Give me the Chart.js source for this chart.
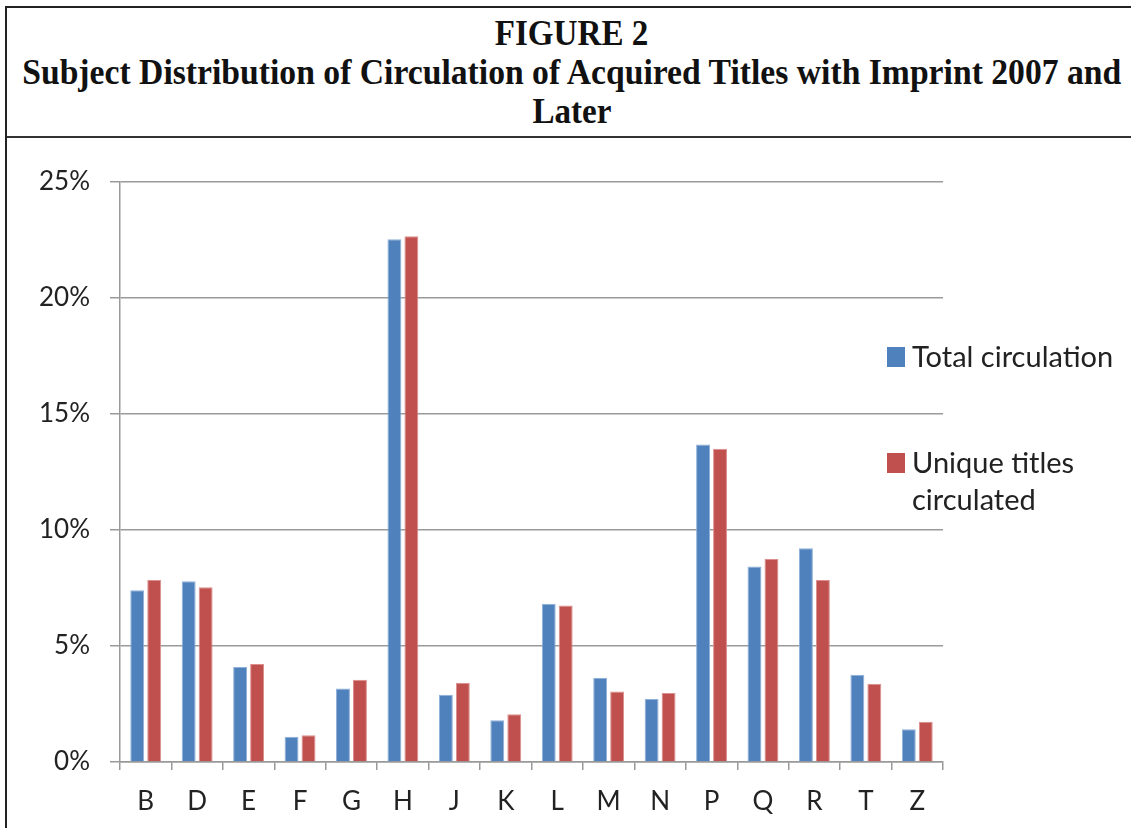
<!DOCTYPE html>
<html>
<head>
<meta charset="utf-8">
<script src="https://cdn.jsdelivr.net/npm/chart.js@4.4.1/dist/chart.umd.min.js"></script>
<style>
  body { margin: 0; background: #fff; width: 1131px; height: 828px; overflow: hidden; position: relative; }
  .frame { position: absolute; left: 5px; top: 6px; width: 1200px; height: 900px; border: 2px solid #222; }
  .head { position: absolute; left: -40px; top: 8px; width: 1224px;
          font-family: "Liberation Serif", "Times New Roman", serif; font-weight: bold; color: #111;
          text-align: center; font-size: 36px; line-height: 39px; padding-top: 6px; }
  .head span { display: inline-block; transform: scaleX(0.92); white-space: nowrap; }
  .sep { position: absolute; left: 7px; top: 136px; width: 1124px; height: 2px; background: #333; }
  .chartbox { position: absolute; left: 8px; top: 138px; width: 1123px; height: 690px; }
  .legend { position: absolute; left: 887px; font-family: Lato, sans-serif; font-size: 29px; color: #222; line-height: 37px; }
  .legend i { position: absolute; left: 0; width: 18px; height: 20px; }
  .legend div { position: absolute; left: 25px; white-space: nowrap; }
</style>
</head>
<body>
<div class="frame"></div>
<div class="head">
  <span>FIGURE 2</span><br>
  <span style="transform:scaleX(0.935)">Subject Distribution of Circulation of Acquired Titles with Imprint 2007 and</span><br>
  <span>Later</span>
</div>
<div class="sep"></div>
<div class="chartbox"><canvas id="c" width="1123" height="690"></canvas></div>
<div id="legend"></div>
<script>
const categories = ['B', 'D', 'E', 'F', 'G', 'H', 'J', 'K', 'L', 'M', 'N', 'P', 'Q', 'R', 'T', 'Z'];
const totalCirculation = [7.40, 7.79, 4.09, 1.09, 3.17, 22.53, 2.90, 1.80, 6.82, 3.63, 2.72, 13.69, 8.43, 9.21, 3.76, 1.41];
const uniqueTitles = [7.84, 7.53, 4.22, 1.15, 3.55, 22.66, 3.42, 2.06, 6.75, 3.04, 2.97, 13.50, 8.75, 7.84, 3.37, 1.74];
const seriesNames = ['Total circulation', ['Unique titles', 'circulated']];
const yTicks = [0, 5, 10, 15, 20, 25];

const colors = ['#4F81BD', '#C0504D'];
const edges = ['#8fb0d8', '#dc8f8d'];

// legende HTML (texte sur deux lignes pour la deuxieme serie)
const legendTops = [345, 451];
document.getElementById('legend').innerHTML = seriesNames.map((name, i) => {
  const lines = Array.isArray(name) ? name : [name];
  return '<div class="legend" style="top:' + legendTops[i] + 'px"><i style="top:2px;background:' + colors[i] + '"></i>' +
    lines.map((l, k) => '<div style="top:' + (k * 37 - 8) + 'px">' + l + '</div>').join('') + '</div>';
}).join('');

const tickFont = { family: 'Lato', size: 26 };

new Chart(document.getElementById('c'), {
  type: 'bar',
  data: {
    labels: categories,
    datasets: [
      { label: 'Total circulation', data: totalCirculation, backgroundColor: colors[0], borderColor: edges[0], borderWidth: 1 },
      { label: 'Unique titles circulated', data: uniqueTitles, backgroundColor: colors[1], borderColor: edges[1], borderWidth: 1 }
    ]
  },
  options: {
    responsive: false,
    animation: false,
    categoryPercentage: 0.66,
    barPercentage: 0.82,
    layout: { padding: { top: 44, right: 188, left: 0, bottom: 0 } },
    plugins: { legend: { display: false }, tooltip: { enabled: false } },
    scales: {
      x: {
        grid: { drawOnChartArea: false, drawTicks: true, tickLength: 8, color: '#999', lineWidth: 1.5, offset: true },
        border: { color: '#999', width: 1.5 },
        ticks: { font: tickFont, color: '#222', padding: 16 },
        afterFit: s => { s.height = 66; }
      },
      y: {
        min: 0, max: 25,
        afterBuildTicks: s => { s.ticks = yTicks.map(v => ({ value: v })); },
        grid: { color: '#9a9a9a', lineWidth: 1.5, tickLength: 10 },
        border: { color: '#999', width: 1.5 },
        ticks: { font: tickFont, color: '#222', padding: 20, callback: v => v + '%' },
        afterFit: s => { s.width = 112; }
      }
    }
  }
});
</script>
</body>
</html>
